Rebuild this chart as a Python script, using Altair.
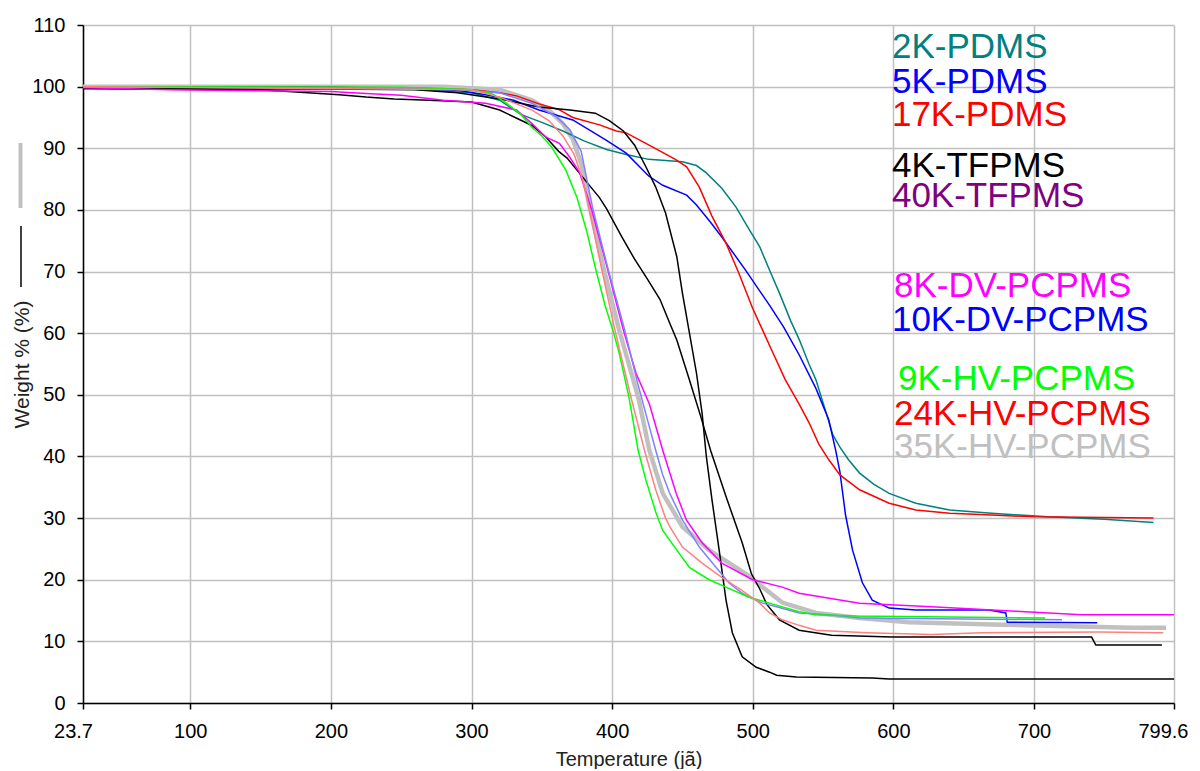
import altair as alt
import pandas as pd

# ---------------- series names and colours ----------------
series_names = ["2K-PDMS", "5K-PDMS", "17K-PDMS", "4K-TFPMS", "40K-TFPMS",
                "8K-DV-PCPMS", "10K-DV-PCPMS", "9K-HV-PCPMS", "24K-HV-PCPMS", "35K-HV-PCPMS"]
line_colors = ["#008080", "#0000FF", "#FF0000", "#000000", "#000000",
               "#FF00FF", "#8080FF", "#00FF00", "#FF8080", "#C0C0C0"]
label_colors = ["#008080", "#0000FF", "#FF0000", "#000000", "#800080",
                "#FF00FF", "#0000FF", "#00FF00", "#FF0000", "#C0C0C0"]

# label anchor (temperature, weight) for the in-plot key
label_temp = [599, 599, 599, 599, 599, 600.5, 599, 603.3, 600.5, 600.5]
label_weight = [104.6, 99.0, 93.6, 85.4, 80.5, 65.9, 60.4, 50.8, 45.1, 39.7]

# tick values
x_ticks = [23.7, 100, 200, 300, 400, 500, 600, 700, 799.6]
y_ticks = [0, 10, 20, 30, 40, 50, 60, 70, 80, 90, 100, 110]

# ---------------- curve data (temperature, weight %) ----------------
t_2k = [23.7, 250, 300, 320, 335, 350, 365, 380, 396, 410, 426, 450, 460, 467, 478, 488, 497, 505,
        512, 519, 527, 533, 540, 545, 551, 557, 562, 568, 576, 586, 597, 616, 640, 670, 710, 750, 777, 785]
w_2k = [100, 99.7, 99.0, 97.8, 95.5, 94.2, 92.8, 91.2, 89.8, 89, 88.2, 87.8, 87.2, 86, 83.5, 80.5, 77, 74,
        70.2, 66.5, 62, 59, 55, 52.4, 48, 43.5, 41.5, 39.5, 37.3, 35.5, 34, 32.4, 31.3, 30.8, 30.2, 29.8, 29.4, 29.3]

t_5k = [23.7, 200, 250, 290, 310, 330, 348, 372, 396, 410, 426, 436, 453, 460, 470, 478, 495, 512, 522,
        533, 545, 554, 559, 562, 566, 571, 578, 585, 597, 616, 668, 680, 681, 745]
w_5k = [100, 99.9, 99.7, 99.4, 98.7, 97.8, 96.2, 94.6, 91.3, 89.2, 85.5, 84, 82.4, 80.8, 78, 75.6, 70.2, 64.5, 61,
        56.5, 51, 46, 41, 37.5, 30.5, 24.8, 19.5, 16.7, 15.4, 15.1, 15.1, 14.6, 13.1, 13]

t_17k = [23.7, 250, 300, 320, 332, 348, 362, 372, 391, 403, 410, 428, 445, 453, 462, 471, 481, 490, 500,
         507, 515, 523, 533, 540, 547, 554, 562, 576, 597, 616, 640, 670, 700, 750, 785]
w_17k = [100, 99.8, 99.5, 99, 98.5, 97.2, 96.3, 95, 93.8, 92.8, 92.5, 90.3, 88.2, 87, 83.7, 79, 74.6, 69.8, 64,
         60.5, 56.5, 52.5, 48.5, 45.5, 42, 39.5, 37, 34.6, 32.4, 31.3, 30.8, 30.5, 30.2, 30.1, 30]

t_4k = [23.7, 200, 260, 290, 320, 348, 370, 388, 398, 408, 416, 424, 431, 438, 446, 450, 455, 460, 464,
        467, 471, 476, 481, 485.5, 492.5, 502.5, 512, 517, 531, 585, 597, 799.6]
w_4k = [99.7, 99.6, 99.5, 99, 98, 96.7, 96.2, 95.7, 94.5, 92.8, 90.5, 87.0, 83.7, 79.5, 72.4, 66.5, 60, 53.5, 47,
        40, 33, 25, 16.7, 11.4, 7.5, 5.8, 5, 4.5, 4.2, 4.05, 3.9, 3.9]

t_40k = [23.7, 150, 206, 225, 245, 270, 300, 320, 343, 353, 362, 368, 378, 391, 396, 407, 416, 425, 434,
         441, 446, 455, 463, 470, 481, 492.5, 499, 505, 510, 519, 533, 556, 599, 741, 744, 791]
w_40k = [99.7, 99.5, 98.7, 98.3, 98, 97.8, 97.5, 96.2, 93.7, 91.8, 89.5, 88.4, 85.6, 82, 80.2, 75.6, 72, 68.8, 65.5,
         61.6, 58.9, 52.4, 46.5, 41, 33.5, 26, 21, 18.5, 16, 13.5, 11.8, 11, 10.7, 10.7, 9.4, 9.4]

t_8k = [23.7, 50, 85, 200, 225, 250, 280, 310, 332, 343, 353, 362.5, 370, 377, 385.5, 397, 408, 417,
        426.5, 436, 445.6, 452.8, 464, 478, 500, 521, 533, 576, 627, 687, 734, 799.6]
w_8k = [99.8, 99.7, 99.5, 99.2, 98.9, 98.6, 97.8, 97.3, 96.2, 94, 91.8, 90.8, 88.5, 86, 80, 70.2, 60.5, 53.5,
        48.5, 41, 34, 29.7, 26, 22.7, 20, 18.8, 17.8, 16.2, 15.6, 14.9, 14.3, 14.3]

t_10k = [23.7, 280, 320, 343, 360, 370, 378, 386, 397, 409, 418, 426.5, 431, 436, 441, 450, 462, 474, 483,
         492.5, 497.5, 507, 517, 533, 554, 576, 720]
w_10k = [100, 99.7, 99, 97.3, 95.2, 93, 89.5, 80.5, 70.5, 60.5, 52, 44.8, 41, 37, 34, 29.7, 25.3, 22, 19.5,
         17.8, 17.2, 16.2, 15.6, 14.6, 14.3, 13.8, 13.5]

t_9k = [23.7, 250, 300, 315, 325, 335, 343, 350, 357, 367, 375, 382, 388, 395, 400.5, 405, 412, 418.5, 424,
        431, 436, 446, 455, 469, 481, 497, 512, 521, 533, 545, 573, 623, 708]
w_9k = [100, 99.9, 99.5, 98.8, 97.3, 95.5, 93.4, 92, 90.2, 86.5, 82, 76.5, 70.7, 64.5, 60.5, 56.8, 49.6, 41, 36.2,
        31, 28, 24.8, 22, 20, 18.8, 17.2, 16.2, 15.6, 14.8, 14.3, 14.1, 14, 13.8]

t_24k = [23.7, 300, 320, 343, 355, 365, 373, 379, 383, 392, 402, 413, 423, 431, 438, 441, 450, 464, 478,
         492, 505, 512, 521, 533, 545, 581, 627, 663, 746, 792]
w_24k = [100, 99.5, 98.3, 96.2, 94.5, 92, 89, 85, 81, 71, 60.5, 50, 41, 34.6, 30, 28.6, 25.3, 22.7, 20.4,
         18.3, 16.2, 14.6, 13.5, 12.6, 11.8, 11.4, 11.1, 11.4, 11.5, 11.4]

t_35k = [23.7, 280, 320, 343, 355, 365, 372, 378, 383.5, 394.5, 405, 410, 419, 426.5, 436, 450, 469, 488, 498,
         507, 521, 531, 545, 576, 611, 677, 769, 794]
w_35k = [100, 100, 99.5, 97.8, 96.2, 94, 91.5, 87.5, 81, 70, 60.5, 56.5, 49.2, 41, 34, 28.6, 24.8, 22, 20.5,
         18.8, 16.3, 15.6, 14.6, 13.8, 13.1, 12.7, 12.2, 12.2]

curves = [(t_2k, w_2k), (t_5k, w_5k), (t_17k, w_17k), (t_4k, w_4k), (t_40k, w_40k),
          (t_8k, w_8k), (t_10k, w_10k), (t_9k, w_9k), (t_24k, w_24k), (t_35k, w_35k)]

rows = []
for name, (ts, ws) in zip(series_names, curves):
    for i, (t, w) in enumerate(zip(ts, ws)):
        rows.append({"series": name, "T": t, "W": w, "i": i})
df = pd.DataFrame(rows)

labels_df = pd.DataFrame({"label": series_names, "T": label_temp, "W": label_weight,
                          "c": label_colors})

FONT = "Liberation Sans"

x_enc = alt.X("T:Q", scale=alt.Scale(domain=[23.7, 799.6], nice=False, zero=False),
              axis=alt.Axis(values=x_ticks, format=".1~f", title="Temperature (jã)",
                            titleX=545.5, titleY=62, titleBaseline="alphabetic",
                            titleAlign="center", labelPadding=12, labelFlush=False,
                            labelAlign={"expr": "datum.value > 790 ? 'right' : 'center'"},
                            labelOffset={"expr": "datum.value > 790 ? 14 : (datum.value < 30 ? -10 : 0)"}))
y_enc = alt.Y("W:Q", scale=alt.Scale(domain=[0, 110], nice=False, zero=True),
              axis=alt.Axis(values=y_ticks, title="Weight % (%)", titleFontSize=21,
                            titleX=-61, titleY=339, titleAngle=-90, titleAlign="center",
                            titleBaseline="middle", labelPadding=12))

color_enc = alt.Color("series:N", scale=alt.Scale(domain=series_names, range=line_colors), legend=None)

thick = alt.Chart(df[df["series"] == "35K-HV-PCPMS"]).mark_line(strokeWidth=4.5, clip=True).encode(
    x=x_enc, y=y_enc, color=color_enc, order="i:Q")

thin = alt.Chart(df[df["series"] != "35K-HV-PCPMS"]).mark_line(strokeWidth=1.5, clip=True).encode(
    x=x_enc, y=y_enc, color=color_enc, detail="series:N", order="i:Q")

texts = alt.Chart(labels_df).mark_text(align="left", baseline="alphabetic", fontSize=35, font=FONT).encode(
    x="T:Q", y="W:Q", text="label:N", color=alt.Color("c:N", scale=None))

deco_df = pd.DataFrame({"k": [0]})
deco_gray = alt.Chart(deco_df).mark_rule(color="#C0C0C0", strokeWidth=4).encode(
    x=alt.value(-62.5), y=alt.value(118), y2=alt.value(183))
deco_black = alt.Chart(deco_df).mark_rule(color="#000000", strokeWidth=1.5).encode(
    x=alt.value(-62), y=alt.value(201), y2=alt.value(262))

chart = alt.layer(thick, thin, texts, deco_gray, deco_black).properties(
    width=1091, height=678,
    padding={"left": 75, "top": 17, "right": 16, "bottom": 66},
    autosize=alt.AutoSizeParams(type="none"),
).configure_view(stroke=None).configure_axis(
    labelFont=FONT, labelFontSize=20, labelColor="#000000",
    titleFont=FONT, titleFontSize=20, titleFontWeight="normal", titleColor="#222222",
    domainColor="#000000", domainWidth=1.5, tickColor="#000000", tickWidth=1.5, tickSize=6,
    gridColor="#C0C0C0", gridWidth=1.5, gridOpacity=1,
)

chart.save("out.html", embed_options={"renderer": "svg", "actions": False})
